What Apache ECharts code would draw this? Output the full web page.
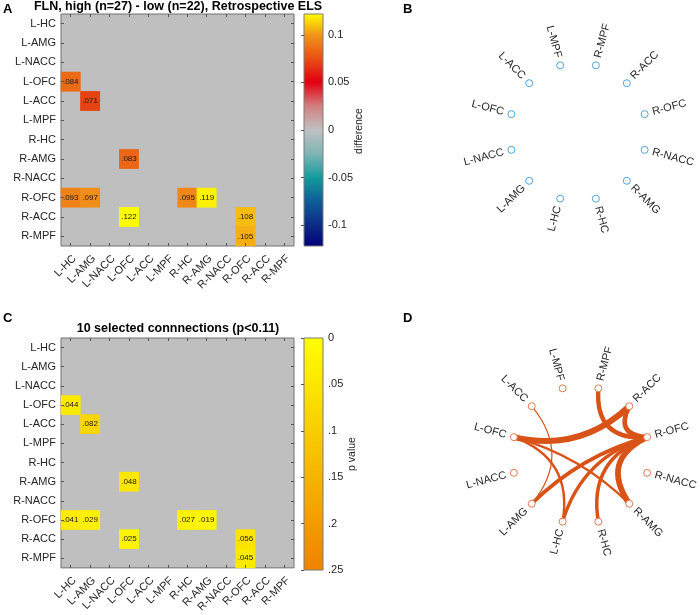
<!DOCTYPE html>
<html><head><meta charset="utf-8">
<script src="https://cdn.jsdelivr.net/npm/echarts@6/dist/echarts.min.js"></script>
<style>html,body{margin:0;padding:0;background:#fff}#c{width:700px;height:615px}</style>
</head><body><div id="c"></div>
<script>
// ---------------- data ----------------
const regions = ['L-HC','L-AMG','L-NACC','L-OFC','L-ACC','L-MPF','R-HC','R-AMG','R-NACC','R-OFC','R-ACC','R-MPF'];
// order of nodes around the ring (ECharts circular layout starts just below 3 o'clock, clockwise)
const ringOrder = ['R-NACC','R-AMG','R-HC','L-HC','L-AMG','L-NACC','L-OFC','L-ACC','L-MPF','R-MPF','R-ACC','R-OFC'];
const cellRows = ['L-OFC','L-ACC','R-AMG','R-OFC','R-OFC','R-OFC','R-OFC','R-ACC','R-ACC','R-MPF'];
const cellCols = ['L-HC','L-AMG','L-OFC','L-HC','L-AMG','R-HC','R-AMG','L-OFC','R-OFC','R-OFC'];
const diffValues = [0.084,0.071,0.083,0.093,0.097,0.095,0.119,0.122,0.108,0.105];
const pValues = [0.044,0.082,0.048,0.041,0.029,0.027,0.019,0.025,0.056,0.045];
const diffRange = [-0.122, 0.122];
const diffTicks = [-0.1,-0.05,0,0.05,0.1];
const diffTickLabels = ['-0.1','-0.05','0','0.05','0.1'];
const pRange = [0, 0.25];
const pTicks = [0,0.05,0.1,0.15,0.2,0.25];
const pTickLabels = ['0','.05','.1','.15','.2','.25'];
const titleA = 'FLN, high (n=27) - low (n=22), Retrospective ELS';
const titleC = '10 selected connnections (p<0.11)';

// ---------------- styles ----------------
const FONT = 'Liberation Sans, Arial, sans-serif';
const TXT = '#262626';
const diffStops = [[-0.122,'#00007a'],[-0.1,'#0c2a84'],[-0.075,'#0e5c98'],[-0.05,'#139b9b'],[-0.025,'#7fb5b5'],
  [0,'#c0c0c0'],[0.025,'#d28080'],[0.05,'#e00010'],[0.075,'#e85014'],[0.1,'#f2961a'],[0.122,'#ffff00']];
const pStops = [[0,'#ffff00'],[0.25,'#f08200']];

function hex(h){return [parseInt(h.slice(1,3),16),parseInt(h.slice(3,5),16),parseInt(h.slice(5,7),16)];}
function colorAt(stops, v){
  if (v <= stops[0][0]) return stops[0][1];
  for (let i=1;i<stops.length;i++){
    if (v <= stops[i][0]){
      const t=(v-stops[i-1][0])/(stops[i][0]-stops[i-1][0]);
      const a=hex(stops[i-1][1]), b=hex(stops[i][1]);
      return 'rgb('+a.map((x,k)=>Math.round(x+(b[k]-x)*t)).join(',')+')';
    }
  }
  return stops[stops.length-1][1];
}
function sample(stops, range, n){
  const out=[]; for(let i=0;i<n;i++){out.push(colorAt(stops, range[0]+(range[1]-range[0])*i/(n-1)));} return out;
}
const fmt = v => v.toFixed(3).replace(/^0/, '');

function cells(values){
  return values.map((v,k)=>[regions.indexOf(cellCols[k]), regions.indexOf(cellRows[k]), v]);
}

function colorbarRender(range, stops, inverse){
  return function(params, api){
    const a = api.coord([0, range[1]]), b = api.coord([1, range[0]]);
    const x=Math.min(a[0],b[0]), y=Math.min(a[1],b[1]);
    const w=Math.abs(b[0]-a[0]), h=Math.abs(b[1]-a[1]);
    const topV = inverse ? range[0] : range[1], botV = inverse ? range[1] : range[0];
    const cs = stops.map(s=>({offset: Math.max(0,Math.min(1,(s[0]-topV)/(botV-topV))), color: s[1]}))
      .sort((p,q)=>p.offset-q.offset);
    return {type:'rect', shape:{x:x,y:y,width:w,height:h},
      style:{fill: new echarts.graphic.LinearGradient(0,0,0,1,cs), stroke:'#7a7a7a', lineWidth:1}};
  };
}

function ringCurveness(a, b){
  const n = ringOrder.length;
  let d = Math.abs(ringOrder.indexOf(a) - ringOrder.indexOf(b)); d = Math.min(d, n-d);
  const half = Math.PI*d/n, s=Math.sin(half), c=Math.cos(half);
  if (c < 1e-6) return 0;
  return s*(1-s)/(1.5*c*c);
}
const edgeWidth = d => 1.2 + (d - 0.071) * 95;

// ---------------- axes helpers ----------------
function catX(grid, pos, labels){
  return {type:'category', gridIndex:grid, position:pos, data:regions, z:3,
    axisLine:{show:false}, splitLine:{show:false},
    axisTick:{show:true, inside:true, alignWithLabel:true, interval:0, length:3, lineStyle:{color:'#555'}},
    axisLabel: labels ? {show:true, interval:0, rotate:45, verticalAlign:'top', fontSize:11, color:TXT, fontFamily:FONT, margin:7} : {show:false}};
}
function catY(grid, pos, labels){
  return {type:'category', gridIndex:grid, position:pos, data:regions, inverse:true, z:3,
    axisLine:{show:false}, splitLine:{show:false},
    axisTick:{show:true, inside:true, alignWithLabel:true, interval:0, length:3, lineStyle:{color:'#555'}},
    axisLabel: labels ? {show:true, interval:0, fontSize:11, color:TXT, fontFamily:FONT, margin:5} : {show:false}};
}
function cbX(grid){ return {type:'value', gridIndex:grid, min:0, max:1, show:false}; }
function cbY(grid, range, ticks, labels, inverse){
  return {type:'value', gridIndex:grid, position:'right', min:range[0], max:range[1], inverse:!!inverse, z:5,
    splitLine:{show:false}, axisLine:{show:false},
    axisTick:{show:true, inside:true, length:3, customValues:ticks, lineStyle:{color:'#555'}},
    axisLabel:{show:true, customValues:ticks, fontSize:11, color:TXT, fontFamily:FONT, margin:5,
      formatter: v => { const i = ticks.findIndex(t=>Math.abs(t-v)<1e-9); return i>=0 ? labels[i] : ''; }}};
}

const gridBox = {show:true, backgroundColor:'#bfbfbf', borderColor:'#707070', borderWidth:1};

const option = {
  animation:false,
  textStyle:{fontFamily:FONT},
  grid:[
    Object.assign({left:61, top:14, width:233, height:232}, gridBox),
    {left:304, top:14, width:19, height:232},
    Object.assign({left:61, top:338, width:233, height:232}, gridBox),
    {left:304, top:338, width:19, height:232}
  ],
  xAxis:[catX(0,'bottom',true), catX(0,'top',false), cbX(1), catX(2,'bottom',true), catX(2,'top',false), cbX(3)],
  yAxis:[catY(0,'left',true), catY(0,'right',false), cbY(1,diffRange,diffTicks,diffTickLabels,false),
         catY(2,'left',true), catY(2,'right',false), cbY(3,pRange,pTicks,pTickLabels,true)],
  visualMap:[
    {type:'continuous', show:false, seriesIndex:0, dimension:2, min:diffRange[0], max:diffRange[1],
     inRange:{color:sample(diffStops,diffRange,61)}},
    {type:'continuous', show:false, seriesIndex:2, dimension:2, min:pRange[0], max:pRange[1],
     inRange:{color:sample(pStops,pRange,11)}}
  ],
  graphic:[
    {type:'text', x:3, y:3, style:{text:'A', fontSize:13, fontWeight:'bold', fontFamily:FONT, fill:'#000', verticalAlign:'top'}},
    {type:'text', x:403, y:3, style:{text:'B', fontSize:13, fontWeight:'bold', fontFamily:FONT, fill:'#000', verticalAlign:'top'}},
    {type:'text', x:3, y:312, style:{text:'C', fontSize:13, fontWeight:'bold', fontFamily:FONT, fill:'#000', verticalAlign:'top'}},
    {type:'text', x:403, y:312, style:{text:'D', fontSize:13, fontWeight:'bold', fontFamily:FONT, fill:'#000', verticalAlign:'top'}},
    {type:'text', x:178, y:7, style:{text:titleA, fontSize:12.5, fontWeight:'bold', fontFamily:FONT, fill:'#000', align:'center', verticalAlign:'middle'}},
    {type:'text', x:178, y:329, style:{text:titleC, fontSize:12.5, fontWeight:'bold', fontFamily:FONT, fill:'#000', align:'center', verticalAlign:'middle'}},
    {type:'text', x:359, y:131, rotation:Math.PI/2, style:{text:'difference', fontSize:10.5, fontFamily:FONT, fill:TXT, align:'center', verticalAlign:'middle'}},
    {type:'text', x:352, y:454, rotation:Math.PI/2, style:{text:'p value', fontSize:10.5, fontFamily:FONT, fill:TXT, align:'center', verticalAlign:'middle'}}
  ],
  series:[
    {type:'heatmap', xAxisIndex:0, yAxisIndex:0, data:cells(diffValues),
     label:{show:true, fontSize:8, color:'#1a1a1a', fontFamily:FONT, formatter:p=>fmt(p.value[2])}},
    {type:'custom', xAxisIndex:2, yAxisIndex:2, z:1, data:[[0,0]], renderItem:colorbarRender(diffRange,diffStops,false), silent:true},
    {type:'heatmap', xAxisIndex:3, yAxisIndex:3, data:cells(pValues),
     label:{show:true, fontSize:8, color:'#1a1a1a', fontFamily:FONT, formatter:p=>fmt(p.value[2])}},
    {type:'custom', xAxisIndex:5, yAxisIndex:5, z:1, data:[[0,0]], renderItem:colorbarRender(pRange,pStops,true), silent:true},
    {type:'graph', layout:'circular', circular:{rotateLabel:true}, left:509, top:63, width:138, height:138,
     symbol:'circle', symbolSize:7, silent:true,
     itemStyle:{color:'#ffffff', borderColor:'#4fa3da', borderWidth:1},
     label:{show:true, position:'right', fontSize:11, color:TXT, fontFamily:FONT, distance:4},
     data:ringOrder.map(n=>({name:n})), links:[]},
    {type:'graph', layout:'circular', circular:{rotateLabel:true}, left:511.5, top:386, width:138, height:138,
     symbol:'circle', symbolSize:7, silent:true,
     itemStyle:{color:'#ffffff', borderColor:'#e2784e', borderWidth:1},
     label:{show:true, position:'right', fontSize:11, color:TXT, fontFamily:FONT, distance:4},
     lineStyle:{color:'#d95319', opacity:1},
     data:ringOrder.map(n=>({name:n})),
     links:cellRows.map((r,k)=>({source:r, target:cellCols[k],
       lineStyle:{width:edgeWidth(diffValues[k]), curveness:ringCurveness(r,cellCols[k]), color:'#d95319', opacity:1}}))}
  ]
};
const chart = echarts.init(document.getElementById('c'), null, {renderer:'canvas'});
chart.setOption(option);
</script>
</body></html>
